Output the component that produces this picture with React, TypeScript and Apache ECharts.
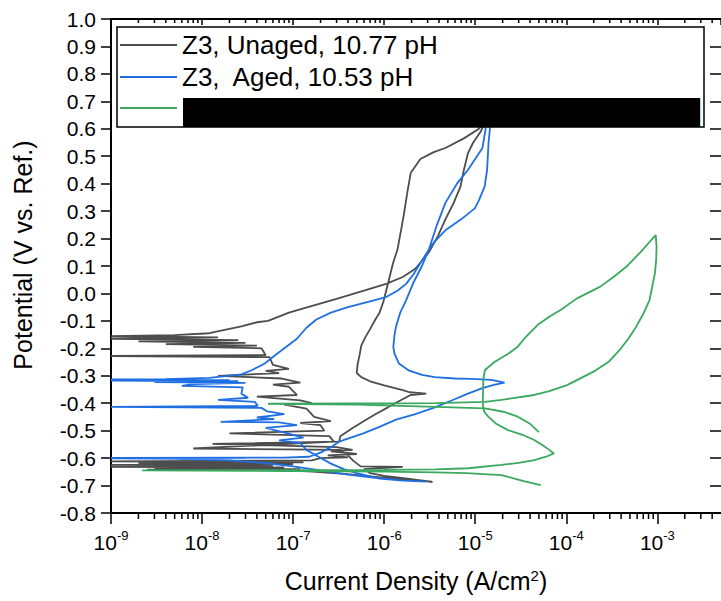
import React, { useEffect, useRef } from 'react';
import * as echarts from 'echarts';

const FONT = '"Liberation Sans", Arial, Helvetica, sans-serif';

// ---- data: [current density (A/cm2), potential (V)] ----
const unagedName = 'Z3, Unaged, 10.77 pH';
const agedName = 'Z3,  Aged, 10.53 pH';
const thirdName = 'Z3, third sample';

const unagedForward: [number, number][] = [
  [3.3e-6, -0.685], [1.6e-6, -0.678], [8e-7, -0.668], [4e-7, -0.658], [1.5e-7, -0.648],
  [5e-8, -0.643], [2.5e-9, -0.642], [1.2e-7, -0.64], [3e-9, -0.637], [8e-8, -0.634],
  [1e-9, -0.632], [6e-8, -0.628], [1e-9, -0.625], [1e-7, -0.622], [2e-9, -0.618],
  [1.3e-7, -0.615], [1e-9, -0.612], [1.6e-7, -0.608], [2e-7, -0.6], [4e-7, -0.597],
  [2.4e-7, -0.59], [5e-7, -0.585], [2.6e-7, -0.575], [4.5e-7, -0.57], [3e-7, -0.56],
  [1.3e-8, -0.548], [3.2e-7, -0.54], [3.3e-7, -0.52],
  [4.5e-7, -0.49], [6e-7, -0.465], [8e-7, -0.44], [1.1e-6, -0.415], [1.5e-6, -0.39],
  [1.95e-6, -0.37], [2.9e-6, -0.365], [1.9e-6, -0.36], [1.6e-6, -0.352], [1e-6, -0.335],
  [7e-7, -0.32], [5.6e-7, -0.305], [5e-7, -0.29], [5.1e-7, -0.26], [5.4e-7, -0.22],
  [5.6e-7, -0.19], [6.2e-7, -0.16], [7e-7, -0.13], [8e-7, -0.095], [8.9e-7, -0.07],
  [9.8e-7, -0.03], [1.1e-6, 0.035], [1.25e-6, 0.11], [1.4e-6, 0.16], [1.55e-6, 0.24],
  [1.65e-6, 0.29], [1.8e-6, 0.37], [1.96e-6, 0.44], [2.5e-6, 0.49], [3.5e-6, 0.515],
  [4.7e-6, 0.53], [7.5e-6, 0.565], [1.1e-5, 0.6], [1.3e-5, 0.63],
];
const unagedReverse: [number, number][] = [
  [1.15e-5, 0.59], [9.5e-6, 0.55], [8.3e-6, 0.51], [7.5e-6, 0.45], [6.9e-6, 0.39],
  [5.8e-6, 0.33], [4.7e-6, 0.27], [3.9e-6, 0.21], [3.1e-6, 0.15], [2.2e-6, 0.09],
  [1.6e-6, 0.06], [1.05e-6, 0.035], [6e-7, 0.01], [3e-7, -0.02], [1.45e-7, -0.05],
  [9e-8, -0.07], [5.3e-8, -0.1], [4e-8, -0.105], [2.7e-8, -0.12], [1.2e-8, -0.145],
  [5e-9, -0.152], [1e-9, -0.156], [1.5e-8, -0.16], [1e-9, -0.165], [2.5e-8, -0.17],
  [2e-9, -0.175], [3e-8, -0.18], [4e-9, -0.185], [4e-8, -0.19], [8e-9, -0.195],
  [4.5e-8, -0.2], [5e-8, -0.225], [1e-9, -0.228], [5.5e-8, -0.232], [6e-8, -0.26],
  [9e-8, -0.275], [5e-8, -0.282], [7e-8, -0.29], [1.5e-8, -0.3], [7.5e-8, -0.31],
  [1.2e-7, -0.325], [6e-8, -0.332], [9e-8, -0.34], [1.1e-7, -0.37], [4e-8, -0.376],
  [1.2e-7, -0.39], [1.6e-7, -0.4], [8e-8, -0.405], [1.4e-7, -0.42], [1.7e-7, -0.45],
  [2.6e-7, -0.465], [1.2e-7, -0.472], [2e-7, -0.48], [2.2e-7, -0.5],
  [2e-8, -0.51], [2.5e-7, -0.52], [2.8e-7, -0.54], [8e-9, -0.565], [3.3e-7, -0.57],
  [4e-7, -0.59], [4.6e-7, -0.61], [5.5e-7, -0.63], [1.6e-6, -0.632], [6e-7, -0.64],
  [7e-7, -0.655], [1e-6, -0.665], [1.8e-6, -0.675], [3.4e-6, -0.687],
];

const agedForward: [number, number][] = [
  [1.6e-6, -0.682], [8e-7, -0.672], [4e-7, -0.66], [2e-7, -0.645], [1e-7, -0.63],
  [5e-8, -0.618], [2e-8, -0.608], [5e-9, -0.603], [1e-9, -0.601], [3e-8, -0.6],
  [1e-9, -0.599], [8e-8, -0.598], [1.5e-7, -0.595], [2e-7, -0.58], [2.6e-7, -0.56],
  [3.2e-7, -0.54], [5.9e-7, -0.51], [9e-7, -0.485], [1.35e-6, -0.46], [2.2e-6, -0.44],
  [3.6e-6, -0.415], [5.5e-6, -0.39], [8.3e-6, -0.365], [1.2e-5, -0.345], [1.6e-5, -0.333],
  [2.1e-5, -0.325], [1.5e-5, -0.315], [9e-6, -0.311], [6e-6, -0.31], [3.6e-6, -0.305],
  [2.6e-6, -0.297], [1.85e-6, -0.28], [1.45e-6, -0.255], [1.3e-6, -0.22], [1.26e-6, -0.195],
  [1.3e-6, -0.15], [1.35e-6, -0.12], [1.5e-6, -0.07], [1.74e-6, -0.025], [2.1e-6, 0.04],
  [2.6e-6, 0.1], [3.1e-6, 0.16], [3.8e-6, 0.25], [4.7e-6, 0.33], [6.3e-6, 0.4],
  [8.3e-6, 0.45], [1.2e-5, 0.53], [1.3e-5, 0.6], [1.35e-5, 0.63],
];
const agedReverse: [number, number][] = [
  [1.45e-5, 0.6], [1.4e-5, 0.55], [1.38e-5, 0.51], [1.35e-5, 0.45], [1.27e-5, 0.39],
  [1.1e-5, 0.34], [9.9e-6, 0.31], [7e-6, 0.27], [4.7e-6, 0.23], [3.6e-6, 0.19],
  [3.1e-6, 0.16], [2.6e-6, 0.12], [2.1e-6, 0.07], [1.74e-6, 0.035], [1.4e-6, 0.01],
  [1.05e-6, -0.013], [5.9e-7, -0.035], [4e-7, -0.05], [2.6e-7, -0.07], [1.8e-7, -0.095],
  [1.4e-7, -0.125], [1.1e-7, -0.165], [7.3e-8, -0.21], [5.8e-8, -0.235], [4.9e-8, -0.255],
  [3.5e-8, -0.28], [2.7e-8, -0.295], [1.2e-8, -0.308], [4e-9, -0.312], [1e-9, -0.313],
  [2e-8, -0.316], [1e-9, -0.318], [2.5e-8, -0.32], [3e-9, -0.323], [3e-8, -0.326],
  [8e-9, -0.33], [6e-9, -0.337], [2.8e-8, -0.342], [2.7e-8, -0.365], [3.2e-8, -0.38],
  [1.5e-8, -0.388], [3.8e-8, -0.395], [4.1e-8, -0.41], [1e-9, -0.413], [4.5e-8, -0.417],
  [5.2e-8, -0.43], [8e-8, -0.44], [4e-8, -0.452], [6.2e-8, -0.458], [1.6e-8, -0.468],
  [7e-8, -0.47], [1.1e-7, -0.48], [5e-8, -0.49], [8.7e-8, -0.51], [1.3e-7, -0.525],
  [7e-8, -0.535], [1.2e-7, -0.545], [1.4e-7, -0.57], [1.9e-7, -0.595], [2.6e-7, -0.62],
  [3.6e-7, -0.64], [5e-7, -0.655], [8.9e-7, -0.675], [1.6e-6, -0.682], [2.9e-6, -0.686],
];

const thirdForward: [number, number][] = [
  [5.25e-5, -0.698], [3.5e-5, -0.685], [1.94e-5, -0.662], [8e-6, -0.655], [3.67e-6, -0.652],
  [1e-6, -0.649], [1e-7, -0.647], [2.2e-9, -0.645], [1e-7, -0.644], [1e-6, -0.643],
  [3.67e-6, -0.641], [8.4e-6, -0.637], [1.94e-5, -0.625], [3e-5, -0.617], [4.45e-5, -0.607],
  [6e-5, -0.595], [7.3e-5, -0.583], [6.5e-5, -0.57], [5.5e-5, -0.553], [4.45e-5, -0.534],
  [3.3e-5, -0.515], [2.29e-5, -0.498], [1.7e-5, -0.475], [1.39e-5, -0.449], [1.25e-5, -0.43],
  [1.22e-5, -0.413], [1.21e-5, -0.38], [1.22e-5, -0.352], [1.23e-5, -0.31], [1.28e-5, -0.279],
  [1.64e-5, -0.249], [2.3e-5, -0.22], [2.93e-5, -0.194], [3.47e-5, -0.164], [4.83e-5, -0.115],
  [6.5e-5, -0.085], [8.65e-5, -0.06], [1.31e-4, -0.018], [2.34e-4, 0.024], [3.3e-4, 0.06],
  [4.56e-4, 0.097], [6.5e-4, 0.15], [9.6e-4, 0.213],
];
const thirdReverse: [number, number][] = [
  [9.8e-4, 0.17], [9.7e-4, 0.12], [9.4e-4, 0.073], [8.2e-4, -0.024], [7e-4, -0.075],
  [5.85e-4, -0.121], [4.8e-4, -0.165], [3.86e-4, -0.206], [2.9e-4, -0.25], [1.99e-4, -0.285],
  [1.02e-4, -0.334], [6.5e-5, -0.356], [4.45e-5, -0.37], [1.94e-5, -0.388], [1.28e-5, -0.395],
  [3.67e-6, -0.4], [5e-7, -0.401], [5.3e-8, -0.402], [5e-7, -0.405], [3.67e-6, -0.413],
  [1.28e-5, -0.419], [2.1e-5, -0.432], [2.93e-5, -0.449], [4e-5, -0.475], [5e-5, -0.505],
];

// axis ticks
const xMin = 1e-9;
const xMax = 5e-3;
const yMin = -0.8;
const yMax = 1.0;
const yStep = 0.1;
const decadeExponents = [-9, -8, -7, -6, -5, -4, -3];
const minorMultipliers = [2, 3, 4, 5, 6, 7, 8, 9];

const COLORS = { unaged: '#4d4d4d', aged: '#1f6fe3', third: '#3aa85f' };

export default function App() {
  const ref = useRef<HTMLDivElement>(null);

  useEffect(() => {
    if (!ref.current) return;
    const chart = echarts.init(ref.current, undefined, { renderer: 'svg' });

    const minorTicks: [number, number][] = [];
    decadeExponents.forEach((e) => {
      minorMultipliers.forEach((m) => {
        const v = m * Math.pow(10, e);
        if (v < xMax) minorTicks.push([v, 0]);
      });
    });

    const xLabelFmt = (v: number) => {
      const lg = Math.log10(v);
      const e = Math.round(lg);
      if (Math.abs(lg - e) > 1e-6) return '';
      return '{b|10}{sup|' + e + '}';
    };

    const lineSeries = (name: string, data: [number, number][], color: string) => ({
      name,
      type: 'line',
      data,
      symbol: 'none',
      showSymbol: false,
      smooth: false,
      lineStyle: { color, width: 1.8 },
      itemStyle: { color },
      silent: true,
      z: 2,
    });

    const option: any = {
      animation: false,
      backgroundColor: '#ffffff',
      textStyle: { fontFamily: FONT },
      grid: { left: 111, top: 19, width: 616.5, height: 494, containLabel: false },
      legend: {
        data: [unagedName, agedName],
        orient: 'vertical',
        left: 120,
        top: 29,
        padding: 0,
        itemGap: 0,
        itemWidth: 57,
        itemHeight: 2,
        icon: 'rect',
        selectedMode: false,
        z: 6,
        textStyle: { fontFamily: FONT, fontSize: 26, color: '#000', lineHeight: 32 },
      },
      xAxis: [
        {
          type: 'log',
          logBase: 10,
          min: xMin,
          max: xMax,
          position: 'bottom',
          splitLine: { show: false },
          axisLine: { show: true, onZero: false, lineStyle: { color: '#000', width: 2 } },
          axisTick: { show: true, inside: false, length: 11, lineStyle: { color: '#000', width: 1.5 } },
          axisLabel: {
            show: true,
            margin: 16,
            showMaxLabel: false,
            formatter: xLabelFmt,
            rich: {
              b: { fontFamily: FONT, fontSize: 21, color: '#000', lineHeight: 24, verticalAlign: 'bottom' },
              sup: { fontFamily: FONT, fontSize: 13, color: '#000', lineHeight: 13, verticalAlign: 'top' },
            },
          },
          name: 'Current Density (A/cm{sup|2})',
          nameLocation: 'middle',
          nameGap: 55,
          nameTextStyle: {
            fontFamily: FONT,
            fontSize: 25,
            color: '#000',
            rich: {
              sup: { fontFamily: FONT, fontSize: 15, color: '#000', verticalAlign: 'top', lineHeight: 15 },
            },
          },
        },
        {
          type: 'log',
          logBase: 10,
          min: xMin,
          max: xMax,
          position: 'top',
          splitLine: { show: false },
          axisLine: { show: true, onZero: false, lineStyle: { color: '#000', width: 2 } },
          axisTick: { show: true, inside: true, length: 6, lineStyle: { color: '#000', width: 1.5 } },
          axisLabel: { show: false },
        },
      ],
      yAxis: [
        {
          type: 'value',
          min: yMin,
          max: yMax,
          interval: yStep,
          position: 'left',
          splitLine: { show: false },
          axisLine: { show: true, onZero: false, lineStyle: { color: '#000', width: 2 } },
          axisTick: { show: true, inside: false, length: 10, lineStyle: { color: '#000', width: 1.5 } },
          axisLabel: {
            show: true,
            margin: 15,
            fontFamily: FONT,
            fontSize: 21,
            color: '#000',
            formatter: (v: number) => (Math.abs(v) < 1e-9 ? '0.0' : v.toFixed(1)),
          },
          name: 'Potential (V vs. Ref.)',
          nameLocation: 'middle',
          nameGap: 76,
          nameTextStyle: { fontFamily: FONT, fontSize: 25, color: '#000', padding: [0, 0, 0, 22] },
        },
        {
          type: 'value',
          min: yMin,
          max: yMax,
          interval: yStep,
          position: 'right',
          splitLine: { show: false },
          axisLine: { show: false, onZero: false },
          axisTick: { show: true, inside: true, length: 11, lineStyle: { color: '#000', width: 1.5 } },
          axisLabel: { show: false },
        },
      ],
      series: [
        lineSeries(unagedName, [...unagedForward, ...unagedReverse], COLORS.unaged),
        lineSeries(agedName, [...agedForward, ...agedReverse], COLORS.aged),
        lineSeries(thirdName, [...thirdForward, ...thirdReverse], COLORS.third),
        {
          name: 'minor ticks',
          type: 'custom',
          silent: true,
          clip: false,
          xAxisIndex: 0,
          yAxisIndex: 0,
          encode: { x: 0, y: 1 },
          data: minorTicks,
          z: 3,
          renderItem: (params: any, api: any) => {
            const p = api.coord([api.value(0), 0]);
            const cs = params.coordSys;
            const top = cs.y;
            const bottom = cs.y + cs.height;
            return {
              type: 'group',
              children: [
                { type: 'line', shape: { x1: p[0], y1: bottom, x2: p[0], y2: bottom + 6 }, style: { stroke: '#000', lineWidth: 1.5 } },
                { type: 'line', shape: { x1: p[0], y1: top, x2: p[0], y2: top + 4 }, style: { stroke: '#000', lineWidth: 1.5 } },
              ],
            };
          },
        },
      ],
      graphic: [
        { type: 'rect', z: 4, shape: { x: 117, y: 27, width: 587, height: 100 }, style: { fill: '#fff', stroke: '#000', lineWidth: 1.5 } },
        { type: 'line', z: 7, shape: { x1: 120, y1: 108, x2: 177, y2: 108 }, style: { stroke: COLORS.third, lineWidth: 2 } },
        { type: 'rect', z: 7, shape: { x: 183, y: 98, width: 517, height: 29 }, style: { fill: '#000' } },
        { type: 'line', z: 7, shape: { x1: 700.5, y1: 98, x2: 700.5, y2: 126 }, style: { stroke: '#a8d8f0', lineWidth: 1 } },
      ],
    };

    chart.setOption(option);
    return () => chart.dispose();
  }, []);

  return (
    <div
      ref={ref}
      style={{ position: 'fixed', left: 0, top: 0, width: 721, height: 601, background: '#fff' }}
    />
  );
}
